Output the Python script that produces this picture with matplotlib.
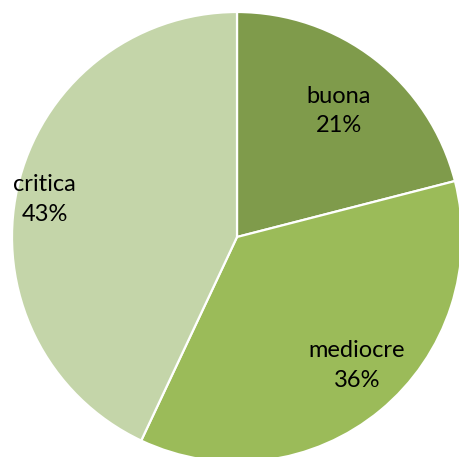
import numpy as np
import matplotlib.pyplot as plt

# Share of each quality class
categories = ["buona", "mediocre", "critica"]
shares = [21, 36, 43]
colors = ["#7f9b4b", "#9bbb59", "#c4d5a9"]

# label placement: (angle in degrees, radius as fraction of pie radius)
label_layout = [(51, 0.72), (-47, 0.78), (169, 0.87)]

fig = plt.figure(figsize=(4.59, 4.57), dpi=100)
ax = fig.add_axes([0, 0, 1, 1])

radius = 225
wedges, _ = ax.pie(shares, colors=colors, startangle=90, counterclock=False,
                   radius=radius, center=(237, 220),
                   wedgeprops=dict(edgecolor="white", linewidth=1.6))

for name, value, (ang, dist) in zip(categories, shares, label_layout):
    theta = np.deg2rad(ang)
    x = 237 + radius * dist * np.cos(theta)
    y = 220 + radius * dist * np.sin(theta)
    ax.text(x, y, f"{name}\n{value}%", ha="center", va="center",
            fontsize=17, family="Lato", linespacing=1.5, color="black")

ax.set_xlim(0, 459)
ax.set_ylim(0, 457)
ax.set_aspect("equal")
ax.axis("off")

fig.savefig("out.png", dpi=100)
